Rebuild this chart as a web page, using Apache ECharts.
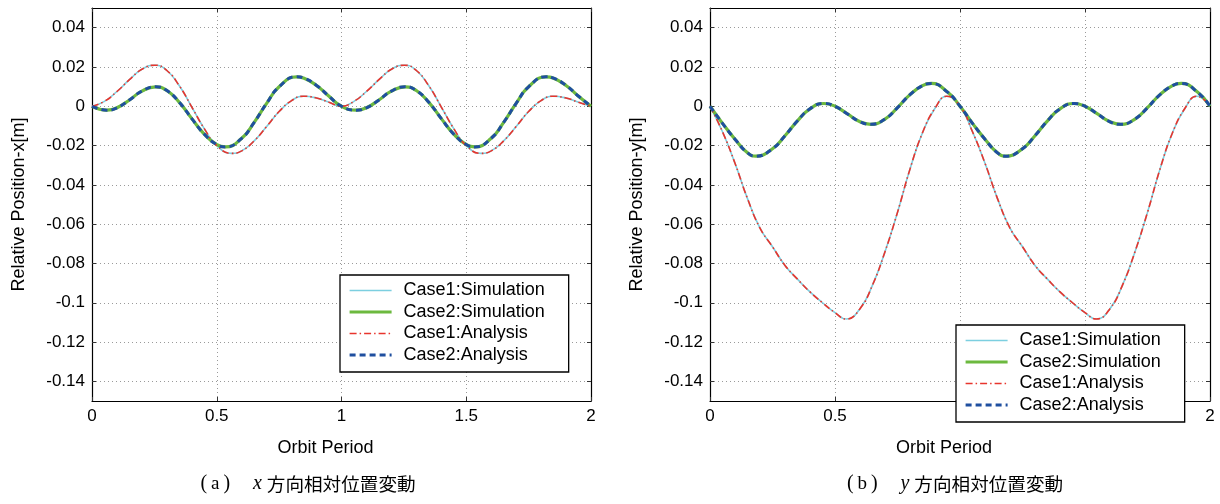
<!DOCTYPE html>
<html>
<head>
<meta charset="utf-8">
<script src="https://cdn.jsdelivr.net/npm/echarts@6/dist/echarts.min.js"></script>
<style>
html,body{margin:0;padding:0;background:#fff;}
#chart{width:1220px;height:504px;}
</style>
</head>
<body>
<div id="chart"></div>
<script>
// ---------- data ----------
const xTicks = [0, 0.5, 1, 1.5, 2];
const yTicks = [-0.14, -0.12, -0.1, -0.08, -0.06, -0.04, -0.02, 0, 0.02, 0.04];
const seriesNames = ['Case1:Simulation', 'Case2:Simulation', 'Case1:Analysis', 'Case2:Analysis'];

// (a) x-direction relative position [m] — orbit period samples and values
const case1XPeriod = [0,0.05,0.1,0.15,0.2,0.2525,0.3,0.35,0.4,0.45,0.5,0.56,0.6,0.65,0.7,0.75,0.8,0.847,0.9,0.95,1.0,
  1.05,1.1,1.15,1.2,1.2525,1.3,1.35,1.4,1.45,1.5,1.56,1.6,1.65,1.7,1.75,1.8,1.847,1.9,1.95,2.0];
const case1X = [0,0.0025,0.0075,0.0135,0.0188,0.0209,0.0182,0.0104,-0.0004,-0.0114,-0.0200,-0.0240,-0.0227,-0.0176,-0.0103,-0.0027,0.0029,0.0051,0.0042,0.0020,0.0000,
  0.0025,0.0075,0.0135,0.0188,0.0209,0.0182,0.0104,-0.0004,-0.0114,-0.0200,-0.0240,-0.0227,-0.0176,-0.0103,-0.0027,0.0029,0.0051,0.0042,0.0020,0.0000];

const case2XPeriod = [0,0.06,0.1,0.15,0.2,0.255,0.3,0.35,0.4,0.45,0.5,0.535,0.6,0.65,0.7,0.75,0.82,0.85,0.9,0.95,1.0,
  1.06,1.1,1.15,1.2,1.255,1.3,1.35,1.4,1.45,1.5,1.535,1.6,1.65,1.7,1.75,1.82,1.85,1.9,1.95,2.0];
const case2X = [0,-0.0020,-0.0008,0.0032,0.0077,0.0099,0.0080,0.0020,-0.0063,-0.0142,-0.0195,-0.0207,-0.0163,-0.0082,0.0015,0.0099,0.0150,0.0143,0.0106,0.0051,0.0000,
  -0.0020,-0.0008,0.0032,0.0077,0.0099,0.0080,0.0020,-0.0063,-0.0142,-0.0195,-0.0207,-0.0163,-0.0082,0.0015,0.0099,0.0150,0.0143,0.0106,0.0051,0.0000];

// (b) y-direction relative position [m]
const case1YPeriod = [0,0.05,0.1,0.15,0.2,0.25,0.3,0.35,0.4,0.45,0.5,0.545,0.6,0.65,0.7,0.75,0.8,0.85,0.9,0.947,1.0,
  1.05,1.1,1.15,1.2,1.25,1.3,1.35,1.4,1.45,1.5,1.545,1.6,1.65,1.7,1.75,1.8,1.85,1.9,1.947,2.0];
const case1Y = [0,-0.013,-0.029,-0.047,-0.062,-0.0715,-0.081,-0.088,-0.0945,-0.100,-0.105,-0.1083,-0.103,-0.091,-0.074,-0.054,-0.032,-0.0135,-0.001,0.0051,0.000,
  -0.013,-0.029,-0.047,-0.062,-0.0715,-0.081,-0.088,-0.0945,-0.100,-0.105,-0.1083,-0.103,-0.091,-0.074,-0.054,-0.032,-0.0135,-0.001,0.0051,0.000];

const case2YPeriod = [0,0.05,0.1,0.15,0.183,0.25,0.3,0.35,0.4,0.456,0.5,0.55,0.6,0.643,0.7,0.75,0.8,0.85,0.885,0.95,1.0,
  1.05,1.1,1.15,1.183,1.25,1.3,1.35,1.4,1.456,1.5,1.55,1.6,1.643,1.7,1.75,1.8,1.85,1.885,1.95,2.0];
const case2Y = [0,-0.0087,-0.0168,-0.0237,-0.0254,-0.0216,-0.0150,-0.0074,-0.0013,0.0014,0.0000,-0.0039,-0.0079,-0.0092,-0.0065,-0.0007,0.0059,0.0105,0.0116,0.0072,0.0000,
  -0.0087,-0.0168,-0.0237,-0.0254,-0.0216,-0.0150,-0.0074,-0.0013,0.0014,0.0000,-0.0039,-0.0079,-0.0092,-0.0065,-0.0007,0.0059,0.0105,0.0116,0.0072,0.0000];

// Simulation and analysis curves coincide in the picture
const case1SimX = case1X, case1AnaX = case1X;
const case2SimX = case2X, case2AnaX = case2X;
const case1SimY = case1Y, case1AnaY = case1Y;
const case2SimY = case2Y, case2AnaY = case2Y;

const captionA = ['a', 'x', '方向相対位置変動'];
const captionB = ['b', 'y', '方向相対位置変動'];

// ---------- styling ----------
const SANS = "'Liberation Sans', Arial, Helvetica, sans-serif";
const SERIF = "'Liberation Serif', 'DejaVu Serif', serif";
const CJK = "'Noto Sans CJK JP', sans-serif";
const gridDash = [1, 3];

const styles = [
  {color: '#7ccfe0', width: 1.6, type: 'solid'},
  {color: '#6cb93f', width: 3.2, type: 'solid'},
  {color: '#e8352d', width: 1.6, type: [7, 3, 1.5, 3]},
  {color: '#1f4f9f', width: 3, type: [6, 4]}
];

function fmt(v) { return String(Number(v.toFixed(2))); }

function mainX(gi) {
  return {
    type: 'value', gridIndex: gi, min: 0, max: 2, position: 'bottom',
    axisLine: {show: true, onZero: false, lineStyle: {color: '#000', width: 1.2}},
    axisTick: {show: true, inside: true, length: 4, customValues: xTicks, lineStyle: {color: '#333'}},
    axisLabel: {customValues: xTicks, margin: 7, fontSize: 17, color: '#000', fontFamily: SANS, formatter: fmt},
    splitLine: {show: true, lineStyle: {color: '#9a9a9a', width: 1, type: gridDash}},
    name: 'Orbit Period', nameLocation: 'middle', nameGap: 38,
    nameTextStyle: {fontSize: 18, color: '#000', fontFamily: SANS, padding: [0, 32, 0, 0]}
  };
}
function topX(gi) {
  return {
    type: 'value', gridIndex: gi, min: 0, max: 2, position: 'top',
    axisLine: {show: true, onZero: false, lineStyle: {color: '#000', width: 1.2}},
    axisTick: {show: true, inside: true, length: 4, customValues: xTicks, lineStyle: {color: '#333'}},
    axisLabel: {show: false}, splitLine: {show: false}
  };
}
function mainY(gi, name) {
  return {
    type: 'value', gridIndex: gi, min: -0.15, max: 0.05, position: 'left',
    axisLine: {show: true, onZero: false, lineStyle: {color: '#000', width: 1.2}},
    axisTick: {show: true, inside: true, length: 4, customValues: yTicks, lineStyle: {color: '#333'}},
    axisLabel: {customValues: yTicks, margin: 7, fontSize: 17, color: '#000', fontFamily: SANS, formatter: fmt},
    splitLine: {show: true, lineStyle: {color: '#9a9a9a', width: 1, type: gridDash}},
    name: name, nameLocation: 'middle', nameGap: 64, nameRotate: 90,
    nameTextStyle: {fontSize: 18, color: '#000', fontFamily: SANS}
  };
}
function rightY(gi) {
  return {
    type: 'value', gridIndex: gi, min: -0.15, max: 0.05, position: 'right',
    axisLine: {show: true, onZero: false, lineStyle: {color: '#000', width: 1.2}},
    axisTick: {show: true, inside: true, length: 4, customValues: yTicks, lineStyle: {color: '#333'}},
    axisLabel: {show: false}, splitLine: {show: false}
  };
}

// curves: list of [periodArray, valueArray] in legend order
function makeSeries(gi, curves) {
  return curves.map((c, k) => ({
    name: seriesNames[k], type: 'line',
    xAxisIndex: gi * 2, yAxisIndex: gi * 2,
    data: c[0].map((t, i) => [t, c[1][i]]),
    smooth: 0.5, symbol: 'none', showSymbol: false,
    lineStyle: {color: styles[k].color, width: styles[k].width, type: styles[k].type},
    itemStyle: {color: styles[k].color},
    z: 2 + k
  }));
}

function makeLegend(left, top) {
  return {
    data: seriesNames, orient: 'vertical', left: left, top: top,
    itemWidth: 42, itemHeight: 14, itemGap: 3.5,
    padding: [6.5, 24, 8, 8],
    backgroundColor: '#fff', borderColor: '#000', borderWidth: 1.3, borderRadius: 0,
    selectedMode: false,
    itemStyle: {opacity: 0},
    lineStyle: {width: 'inherit', type: 'inherit', color: 'inherit'},
    textStyle: {fontSize: 18, lineHeight: 18, color: '#000', fontFamily: SANS, padding: [0, 0, 0, 7]},
    z: 20
  };
}

function caption(x, y, parts) {
  return {
    type: 'text', x: x, y: y, z: 30,
    style: {
      text: '{p|(}{l|' + parts[0] + '}{p|)}{g| }{i|' + parts[1] + '}{c|' + parts[2] + '}',
      textAlign: 'center', textVerticalAlign: 'middle',
      rich: {
        p: {fontSize: 20, fontFamily: SERIF, fill: '#000', padding: [0, 2, 0, 2]},
        l: {fontSize: 19, fontFamily: SERIF, fill: '#000', padding: [0, 2, 0, 2]},
        g: {fontSize: 19, fontFamily: SERIF, fill: '#000', padding: [0, 8, 0, 8]},
        i: {fontSize: 20, fontFamily: SERIF, fontStyle: 'italic', fill: '#000', padding: [0, 5, 0, 0]},
        c: {fontSize: 18.6, fontFamily: CJK, fill: '#000'}
      }
    }
  };
}

const chart = echarts.init(document.getElementById('chart'), null, {renderer: 'canvas'});
chart.setOption({
  backgroundColor: '#fff',
  animation: false,
  grid: [
    {left: 92, top: 8, width: 499, height: 393, containLabel: false, outerBoundsMode: 'none'},
    {left: 710, top: 8, width: 500, height: 393, containLabel: false, outerBoundsMode: 'none'}
  ],
  xAxis: [mainX(0), topX(0), mainX(1), topX(1)],
  yAxis: [mainY(0, 'Relative Position-x[m]'), rightY(0), mainY(1, 'Relative Position-y[m]'), rightY(1)],
  legend: [makeLegend(340, 275), makeLegend(956, 325)],
  series: [].concat(
    makeSeries(0, [[case1XPeriod, case1SimX], [case2XPeriod, case2SimX], [case1XPeriod, case1AnaX], [case2XPeriod, case2AnaX]]),
    makeSeries(1, [[case1YPeriod, case1SimY], [case2YPeriod, case2SimY], [case1YPeriod, case1AnaY], [case2YPeriod, case2AnaY]])
  ),
  graphic: [caption(307, 484, captionA), caption(954, 484, captionB)]
});
</script>
</body>
</html>
